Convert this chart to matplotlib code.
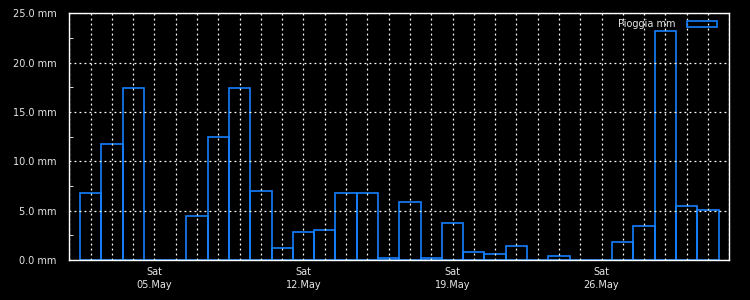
import datetime as dt
import matplotlib
matplotlib.use("Agg")
import matplotlib.pyplot as plt
import matplotlib.dates as mdates
from matplotlib.ticker import MultipleLocator, FuncFormatter

# daily rain, May 2018 (days 2..31)
days = list(range(2, 32))
rain = [6.8, 11.8, 17.4, 0.0, 0.0, 4.5, 12.5, 17.4, 7.0, 1.2,
        2.8, 3.0, 6.8, 6.8, 0.2, 5.9, 0.2, 3.8, 0.8, 0.6,
        1.4, 0.0, 0.4, 0.0, 0.0, 1.8, 3.4, 23.2, 5.5, 5.1]
dates = [dt.datetime(2018, 5, d) for d in days]

blue = '#1580ff'
fig = plt.figure(figsize=(7.5, 3), dpi=100, facecolor='black')
ax = fig.add_axes([0.0924, 0.1333, 0.880, 0.8224], facecolor='black')

ax.bar(mdates.date2num(dates), rain, width=1.0, fill=False,
       edgecolor=blue, linewidth=1.2, label='Pioggia mm', zorder=1)

ax.set_xlim(mdates.date2num(dt.datetime(2018, 5, 1)),
            mdates.date2num(dt.datetime(2018, 6, 1)))
ax.set_ylim(0, 25)

ax.yaxis.set_major_locator(MultipleLocator(5))
ax.yaxis.set_minor_locator(MultipleLocator(2.5))
ax.yaxis.set_major_formatter(FuncFormatter(lambda v, p: '%.1f mm' % v))

ax.xaxis.set_major_locator(mdates.WeekdayLocator(byweekday=mdates.SA))
ax.xaxis.set_minor_locator(mdates.DayLocator())
ax.xaxis.set_major_formatter(mdates.DateFormatter('%a\n%d.%b'))

ax.grid(True, which='both', axis='x', color='white', linestyle=(0, (1.5, 2.5)), linewidth=0.9)
ax.grid(True, which='major', axis='y', color='white', linestyle=(0, (1.5, 2.5)), linewidth=0.9)

ax.tick_params(axis='y', which='both', direction='in', colors='white', labelsize=7, pad=9)
ax.tick_params(axis='y', which='major', length=0)
ax.tick_params(axis='y', which='minor', length=3)
ax.tick_params(axis='x', which='both', length=0, colors='white', labelsize=7, pad=5)
for lbl in ax.get_xticklabels() + ax.get_yticklabels():
    lbl.set_color('#e6e6e6')
for lbl in ax.get_xticklabels():
    lbl.set_linespacing(1.4)

for s in ax.spines.values():
    s.set_color('white')
    s.set_linewidth(1)
    s.set_zorder(3)

leg = ax.legend(loc='upper right', bbox_to_anchor=(0.991, 1.003), frameon=False,
                fontsize=7, labelcolor='#e6e6e6',
                markerfirst=False, handlelength=3.0, handleheight=0.45,
                borderaxespad=0.3, handletextpad=1.2)

fig.savefig('out.png', dpi=100, facecolor='black')
